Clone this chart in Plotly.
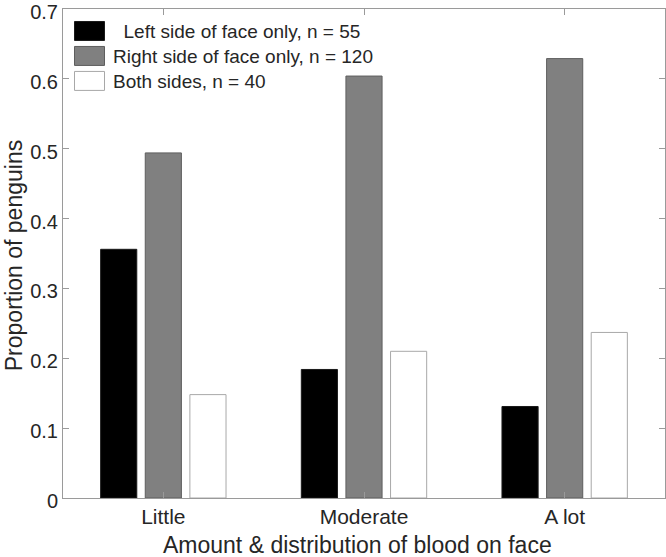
import plotly.graph_objects as go

categories = ["Little", "Moderate", "A lot"]
series_names = ["\u00a0\u00a0Left side of face only, n = 55",
                "Right side of face only, n = 120",
                "Both sides, n = 40"]
left_only = [0.356, 0.184, 0.131]
right_only = [0.494, 0.604, 0.629]
both_sides = [0.148, 0.210, 0.237]
y_ticks = [0, 0.1, 0.2, 0.3, 0.4, 0.5, 0.6, 0.7]
x_title = "Amount & distribution of blood on face"
y_title = "Proportion of penguins"

fills = ["#000000", "#808080", "#ffffff"]
edges = ["#1a1a1a", "#5e5e5e", "#a8a8a8"]
series_values = [left_only, right_only, both_sides]

FONT = "Liberation Sans, Arial, Helvetica, sans-serif"
TXT = "#262626"
AX = "#9a9a9a"

fig = go.Figure()
for name, vals, fc, ec in zip(series_names, series_values, fills, edges):
    fig.add_trace(go.Bar(x=categories, y=vals, name=name,
                         marker=dict(color=fc, line=dict(color=ec, width=1)),
                         showlegend=False))

# plot-area geometry in pixels
L, R, T, B = 63, 665, 8.5, 498
W, H = R - L, B - T
def px(x): return (x - L) / W
def py(y): return (B - y) / H

# manual MATLAB-style legend (large swatches)
for i, (name, fc, ec) in enumerate(zip(series_names, fills, edges)):
    y0 = 21 + 25 * i
    fig.add_shape(type="rect", xref="paper", yref="paper",
                  x0=px(74.5), x1=px(104.5), y0=py(y0 + 19), y1=py(y0),
                  fillcolor=fc, line=dict(color=ec, width=1), layer="above")
    fig.add_annotation(xref="paper", yref="paper", x=px(111), y=py(y0 + 10),
                       xanchor="left", yanchor="middle", showarrow=False,
                       text=name, font=dict(family=FONT, size=19, color=TXT))

# axis titles
fig.add_annotation(xref="paper", yref="paper", x=px(357), y=py(545),
                   xanchor="center", yanchor="middle", showarrow=False,
                   text=x_title, font=dict(family=FONT, size=23, color=TXT))
fig.add_annotation(xref="paper", yref="paper", x=px(14), y=py(256),
                   xanchor="center", yanchor="middle", showarrow=False,
                   textangle=-90,
                   text=y_title, font=dict(family=FONT, size=23, color=TXT))

fig.update_layout(
    width=666, height=557,
    margin=dict(l=L, r=666 - R, t=T, b=557 - B, autoexpand=False),
    paper_bgcolor="white", plot_bgcolor="white",
    barmode="group", bargap=0.333, bargroupgap=0.19,
    font=dict(family=FONT, color=TXT),
)
fig.update_xaxes(
    type="category", range=[-0.5, 2.5], automargin=False,
    showline=True, linecolor=AX, linewidth=1, mirror="ticks",
    ticks="inside", ticklen=6, tickcolor=AX, tickwidth=1,
    showgrid=False, zeroline=False,
    tickfont=dict(family=FONT, size=21, color=TXT),
)
fig.update_yaxes(
    range=[0, 0.7], tickvals=y_ticks, ticktext=[f"{v:g}" for v in y_ticks],
    automargin=False, ticklabeloverflow="allow", ticklabelshift=3,
    showline=True, linecolor=AX, linewidth=1, mirror="ticks",
    ticks="inside", ticklen=6, tickcolor=AX, tickwidth=1,
    showgrid=False, zeroline=False,
    tickfont=dict(family=FONT, size=20, color=TXT),
)
fig.write_html("out.html", config={"displayModeBar": False},
               post_script="document.body.style.margin='0';document.body.style.overflow='hidden';")
